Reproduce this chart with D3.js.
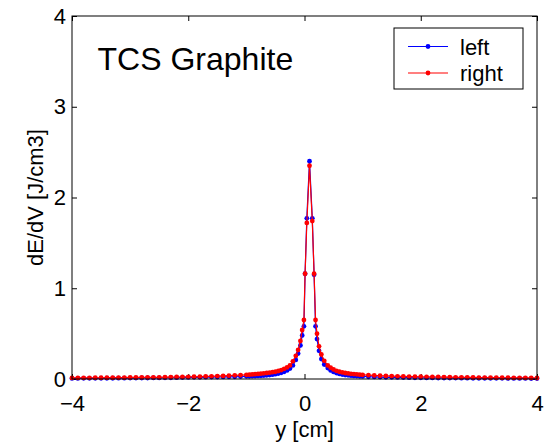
<!DOCTYPE html>
<html lang="en">
<head>
    <meta charset="UTF-8">
    <title>TCS Graphite</title>
    <script src="https://d3js.org/d3.v7.min.js"></script>
    <style>
        body {
            margin: 0;
            background: #fff;
        }
        svg text {
            font-family: "Liberation Sans", Arial, sans-serif;
            fill: #000;
        }
    </style>
</head>
<body>
    <div id="chart"></div>

    <script>
        // y positions [cm], shared by both series
        const yPos = [
            -4.0, -3.9, -3.8, -3.7, -3.6, -3.5, -3.4, -3.3, -3.2, -3.1,
            -3.0, -2.9, -2.8, -2.7, -2.6, -2.5, -2.4, -2.3, -2.2, -2.1,
            -2.0, -1.9, -1.8, -1.7, -1.6, -1.5, -1.4, -1.3, -1.2, -1.1,
            -1.0, -0.95, -0.9, -0.85, -0.8, -0.75, -0.7, -0.65, -0.6, -0.55,
            -0.5, -0.45, -0.4, -0.35, -0.3, -0.25, -0.2, -0.15, -0.11, -0.07,
            -0.04, -0.01, 0.01, 0.04, 0.086, 0.134, 0.165, 0.19, 0.215, 0.25,
            0.29, 0.34, 0.4, 0.45, 0.5, 0.55, 0.6, 0.65, 0.7, 0.75,
            0.8, 0.85, 0.9, 0.95, 1.0, 1.1, 1.2, 1.3, 1.4, 1.5,
            1.6, 1.7, 1.8, 1.9, 2.0, 2.1, 2.2, 2.3, 2.4, 2.5,
            2.6, 2.7, 2.8, 2.9, 3.0, 3.1, 3.2, 3.3, 3.4, 3.5,
            3.6, 3.7, 3.8, 3.9, 4.0
        ];

        // dE/dV [J/cm3], left side
        const leftValues = [
            0.006, 0.006, 0.007, 0.007, 0.007, 0.008, 0.008, 0.008, 0.009, 0.009,
            0.010, 0.010, 0.011, 0.011, 0.012, 0.012, 0.013, 0.014, 0.015, 0.016,
            0.017, 0.018, 0.019, 0.020, 0.021, 0.022, 0.023, 0.024, 0.025, 0.027,
            0.029, 0.030, 0.031, 0.032, 0.034, 0.036, 0.038, 0.041, 0.044, 0.048,
            0.053, 0.060, 0.068, 0.080, 0.095, 0.115, 0.150, 0.210, 0.280, 0.370,
            0.480, 0.580, 1.160, 1.770, 2.400, 1.770, 1.150, 0.580, 0.440, 0.310,
            0.220, 0.160, 0.120, 0.095, 0.078, 0.066, 0.056, 0.049, 0.044, 0.040,
            0.037, 0.034, 0.032, 0.030, 0.028, 0.025, 0.023, 0.021, 0.019, 0.018,
            0.017, 0.016, 0.015, 0.014, 0.013, 0.012, 0.012, 0.011, 0.011, 0.010,
            0.010, 0.009, 0.009, 0.008, 0.008, 0.008, 0.007, 0.007, 0.007, 0.006,
            0.006, 0.006, 0.006, 0.005, 0.005
        ];

        // dE/dV [J/cm3], right side
        const rightValues = [
            0.012, 0.012, 0.013, 0.013, 0.014, 0.014, 0.015, 0.015, 0.016, 0.016,
            0.017, 0.017, 0.018, 0.018, 0.019, 0.019, 0.020, 0.021, 0.022, 0.023,
            0.024, 0.025, 0.026, 0.028, 0.030, 0.032, 0.034, 0.037, 0.040, 0.043,
            0.046, 0.048, 0.050, 0.053, 0.056, 0.059, 0.062, 0.066, 0.070, 0.075,
            0.080, 0.088, 0.098, 0.112, 0.128, 0.150, 0.195, 0.255, 0.320, 0.420,
            0.540, 0.650, 1.160, 1.720, 2.350, 1.740, 1.160, 0.650, 0.500, 0.360,
            0.270, 0.200, 0.150, 0.125, 0.105, 0.090, 0.080, 0.072, 0.066, 0.061,
            0.057, 0.054, 0.051, 0.048, 0.046, 0.042, 0.039, 0.036, 0.034, 0.032,
            0.030, 0.028, 0.027, 0.026, 0.025, 0.024, 0.023, 0.022, 0.021, 0.020,
            0.019, 0.018, 0.018, 0.017, 0.016, 0.016, 0.015, 0.015, 0.014, 0.014,
            0.013, 0.013, 0.012, 0.012, 0.011
        ];

        const xTicks = [-4, -2, 0, 2, 4];
        const yTicks = [0, 1, 2, 3, 4];

        const series = [
            { name: "left", color: "#0000ff", values: leftValues },
            { name: "right", color: "#ff0000", values: rightValues }
        ];

        const W = 546, H = 445;
        const margin = { top: 16, right: 9, bottom: 66, left: 72 };
        const width = W - margin.left - margin.right,
              height = H - margin.top - margin.bottom;
        const fs = "22px";

        const svg = d3.select("#chart").append("svg")
            .attr("width", W)
            .attr("height", H);

        const g = svg.append("g")
            .attr("transform", `translate(${margin.left}, ${margin.top})`);

        const x = d3.scaleLinear().domain([-4, 4]).range([0, width]);
        const y = d3.scaleLinear().domain([0, 4]).range([height, 0]);

        // axes with inward ticks (bottom/left labelled, top/right mirrored)
        const tickLen = 5;
        g.append("g")
            .attr("transform", `translate(0, ${height})`)
            .call(d3.axisBottom(x).tickValues(xTicks).tickSizeInner(-tickLen).tickSizeOuter(0).tickPadding(16)
                .tickFormat(d => d < 0 ? "\u2212" + Math.abs(d) : d))
            .call(a => a.select(".domain").remove())
            .call(a => a.selectAll("text").style("font-size", fs));
        g.append("g")
            .call(d3.axisTop(x).tickValues(xTicks).tickSizeInner(-tickLen).tickSizeOuter(0).tickFormat(""))
            .call(a => a.select(".domain").remove());
        g.append("g")
            .call(d3.axisLeft(y).tickValues(yTicks).tickSizeInner(-tickLen).tickSizeOuter(0).tickPadding(6)
                .tickFormat(d3.format("d")))
            .call(a => a.select(".domain").remove())
            .call(a => a.selectAll("text").style("font-size", fs));
        g.append("g")
            .attr("transform", `translate(${width}, 0)`)
            .call(d3.axisRight(y).tickValues(yTicks).tickSizeInner(-tickLen).tickSizeOuter(0).tickFormat(""))
            .call(a => a.select(".domain").remove());

        // series: line with dot markers
        const line = d3.line()
            .x((d, i) => x(yPos[i]))
            .y(d => y(d));

        series.forEach(s => {
            g.append("path")
                .datum(s.values)
                .attr("fill", "none")
                .attr("stroke", s.color)
                .attr("stroke-width", 1.2)
                .attr("d", line);
            g.append("g").selectAll("circle")
                .data(s.values)
                .enter().append("circle")
                .attr("cx", (d, i) => x(yPos[i]))
                .attr("cy", d => y(d))
                .attr("r", 2.4)
                .attr("fill", s.color);
        });

        // frame
        g.append("rect")
            .attr("width", width)
            .attr("height", height)
            .attr("fill", "none")
            .attr("stroke", "#000")
            .attr("stroke-width", 1);

        // annotation
        g.append("text")
            .attr("x", x(-3.56))
            .attr("y", 54)
            .style("font-size", "32px")
            .text("TCS Graphite");

        // legend
        const lg = svg.append("g").attr("transform", "translate(394, 28)");
        lg.append("rect")
            .attr("width", 129)
            .attr("height", 61)
            .attr("fill", "#fff")
            .attr("stroke", "#000")
            .attr("stroke-width", 1);
        series.forEach((s, i) => {
            const ly = 18.5 + i * 26.5;
            lg.append("line")
                .attr("x1", 14).attr("x2", 54)
                .attr("y1", ly).attr("y2", ly)
                .attr("stroke", s.color)
                .attr("stroke-width", 1.2);
            lg.append("circle")
                .attr("cx", 34).attr("cy", ly).attr("r", 2.4)
                .attr("fill", s.color);
            lg.append("text")
                .attr("x", 66).attr("y", ly + 8)
                .style("font-size", fs)
                .text(s.name);
        });

        // axis labels
        svg.append("text")
            .attr("text-anchor", "middle")
            .attr("x", margin.left + width / 2)
            .attr("y", 437)
            .style("font-size", fs)
            .text("y [cm]");
        svg.append("text")
            .attr("text-anchor", "middle")
            .attr("transform", `translate(43, ${margin.top + height / 2}) rotate(-90)`)
            .style("font-size", fs)
            .text("dE/dV [J/cm3]");
    </script>
</body>
</html>
